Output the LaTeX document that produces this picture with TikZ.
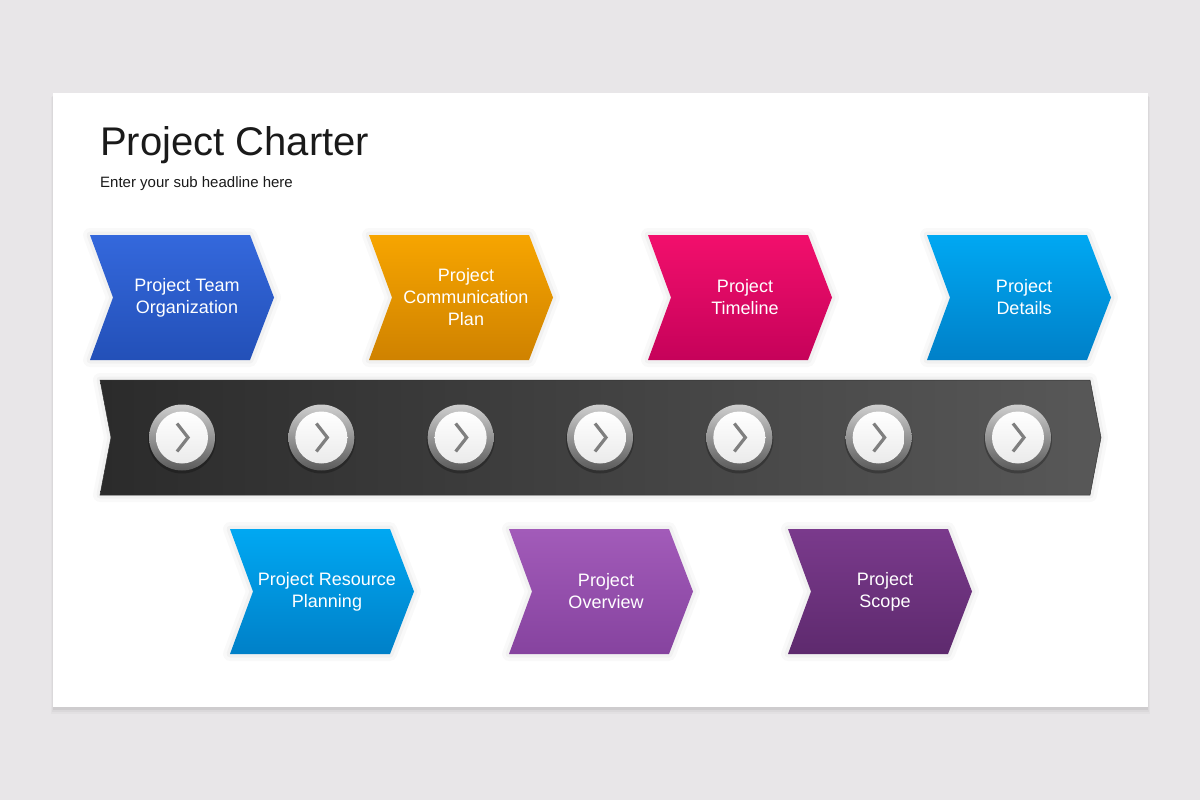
\documentclass[tikz,border=0pt]{standalone}
\usepackage{fontspec}
\setmainfont{Liberation Sans}
\definecolor{bg}{HTML}{E8E6E8}
\definecolor{titlecol}{HTML}{1A1A1A}
\definecolor{blueT}{HTML}{3468DC}\definecolor{blueB}{HTML}{2350B8}
\definecolor{orT}{HTML}{F7A500}\definecolor{orB}{HTML}{CF8200}
\definecolor{pkT}{HTML}{F20F6C}\definecolor{pkB}{HTML}{C6025A}
\definecolor{skT}{HTML}{00A8F2}\definecolor{skB}{HTML}{0080C8}
\definecolor{puT}{HTML}{A25BB9}\definecolor{puB}{HTML}{86439F}
\definecolor{dpT}{HTML}{7A3A8C}\definecolor{dpB}{HTML}{5E2A6E}
\definecolor{barL}{HTML}{2B2B2B}\definecolor{barR}{HTML}{585858}
\definecolor{ringT}{HTML}{CFCFCF}\definecolor{ringB}{HTML}{5A5A5A}
\definecolor{arrcol}{HTML}{7F7F7F}
\tikzset{
  glowA/.style={draw=black,draw opacity=0.025,line width=14pt,line join=round},
  glowB/.style={draw=black,draw opacity=0.03,line width=7pt,line join=round},
  lbl/.style={align=center,text=white,inner sep=0pt,font=\fontsize{18}{22}\selectfont},
  ring/.style={circle,minimum size=66pt,inner sep=0pt,top color=ringT,bottom color=ringB},
  disk/.style={circle,minimum size=52pt,inner sep=0pt,top color=white,bottom color=white!92!black},
  chevarrow/.style={draw=arrcol,line width=3.2pt,miter limit=10}
}
\newcommand\chevpath[2]{(#1,#2) -- ++(160,0) -- ++(24,62.5) -- ++(-24,62.5) -- ++(-160,0) -- ++(23,-62.5) -- cycle}
\newcommand\mychev[4]{%
  \path[glowA] \chevpath{#1}{#2};
  \path[glowB] \chevpath{#1}{#2};
  \path[top color=#3,bottom color=#4] \chevpath{#1}{#2};}
\begin{document}
\begin{tikzpicture}[x=1pt,y=-1pt]
\useasboundingbox (0,0) rectangle (1200,800);
\fill[bg] (0,0) rectangle (1200,800);
% slide shadow
\fill[black,opacity=0.025] (51,97) rectangle (1150,714);
\fill[black,opacity=0.035] (52,96) rectangle (1149,712);
\fill[black,opacity=0.05] (53,95) rectangle (1148,710);
\fill[white] (53,93) rectangle (1148,707);
% title
\node[anchor=base west,inner sep=0pt,text=titlecol,font=\fontsize{40}{48}\selectfont] (title) at (100,155) {Project Charter};
\node[anchor=base west,inner sep=0pt,text=titlecol,font=\fontsize{15}{18}\selectfont] (sub) at (100,187) {Enter your sub headline here};
% top chevrons
\mychev{90}{235}{blueT}{blueB}
\mychev{369}{235}{orT}{orB}
\mychev{648}{235}{pkT}{pkB}
\mychev{927}{235}{skT}{skB}
\node[lbl] (t1) at (187,297.5) {Project Team\\Organization};
\node[lbl] (t2) at (466,297.5) {Project\\Communication\\Plan};
\node[lbl] (t3) at (745,297.5) {Project\\Timeline};
\node[lbl] (t4) at (1024,297.5) {Project\\Details};
% bar
\path[glowA] (100,380) -- (1090,380) -- (1101,437.5) -- (1090,495) -- (100,495) -- (111,437.5) -- cycle;
\path[glowB] (100,380) -- (1090,380) -- (1101,437.5) -- (1090,495) -- (100,495) -- (111,437.5) -- cycle;
\path[left color=barL,right color=barR,draw=black!80,line width=0.5pt]
  (100,380) -- (1090,380) -- (1101,437.5) -- (1090,495) -- (100,495) -- (111,437.5) -- cycle;
\foreach \i in {0,...,6}{
  \fill[black,opacity=0.25] ({182+\i*139.33},439.5) circle (34);
  \node[ring] (c\i) at ({182+\i*139.33},437.5) {};
  \node[disk] (w\i) at (c\i.center) {};
  \draw[chevarrow] ([xshift=-5pt,yshift=14pt]w\i.center) -- ([xshift=6pt]w\i.center) -- ([xshift=-5pt,yshift=-14pt]w\i.center);
}
% bottom chevrons
\mychev{230}{529}{skT}{skB}
\mychev{509}{529}{puT}{puB}
\mychev{788}{529}{dpT}{dpB}
\node[lbl] (b1) at (327,591.5) {Project Resource\\Planning};
\node[lbl] (b2) at (606,591.5) {Project\\Overview};
\node[lbl] (b3) at (885,591.5) {Project\\Scope};
\end{tikzpicture}
\end{document}
